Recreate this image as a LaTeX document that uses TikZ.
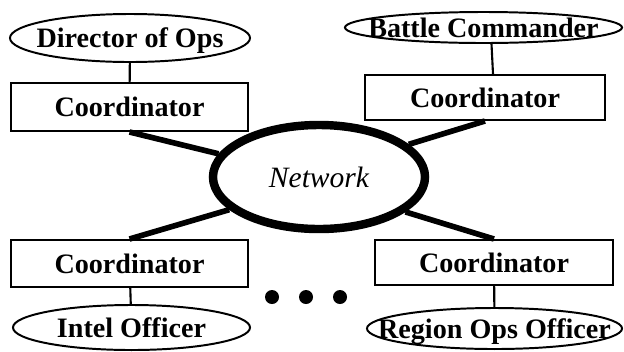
\documentclass[tikz,border=0pt]{standalone}
\usepackage{fontspec}
\setmainfont{Liberation Serif}
\usetikzlibrary{shapes.geometric}

\begin{document}
\begin{tikzpicture}[x=0.025cm,y=-0.025cm,
  font=\fontsize{20}{24}\selectfont\bfseries,
  every label/.style={text depth=0pt,inner sep=0pt},
  coord/.style={draw,line width=1.4pt,inner sep=0pt},
  person/.style={draw,ellipse,line width=1.4pt,inner sep=0pt},
  link/.style={line width=4pt},
  tie/.style={line width=1.5pt}]
\useasboundingbox (0,0) rectangle (624,351);
\node[person,minimum width=6cm,minimum height=1.2cm,label=center:Director of Ops] (dirops) at (130,38) {};
\node[person,minimum width=6.925cm,minimum height=0.775cm,label=center:Battle Commander] (battle) at (483.5,27.5) {};
\node[person,minimum width=5.925cm,minimum height=1.125cm,label=center:Intel Officer] (intel) at (131.5,327.5) {};
\node[person,minimum width=6.375cm,minimum height=1.025cm,label=center:Region Ops Officer] (region) at (494.5,328.5) {};
\node[coord,minimum width=5.925cm,minimum height=1.2cm] (c1) at (129.5,107) {Coordinator};
\node[coord,minimum width=6cm,minimum height=1.125cm] (c2) at (485,97.5) {Coordinator};
\node[coord,minimum width=5.925cm,minimum height=1.175cm] (c3) at (129.5,263.5) {Coordinator};
\node[coord,minimum width=5.95cm,minimum height=1.125cm] (c4) at (494,262.5) {Coordinator};
\node[draw,ellipse,line width=6pt,minimum width=5.3cm,minimum height=2.6cm,
  font=\fontsize{21}{25}\selectfont\itshape] (net) at (319,177) {Network};
\draw[tie] (dirops) -- (c1);
\draw[tie] ([xshift=0.2cm]battle.south) -- ([xshift=0.2cm]c2.north);
\draw[tie] (c3) -- (intel);
\draw[tie] (c4) -- (region);
\draw[link] (c1.south) -- (net.167);
\draw[link] (c2.south) -- (net.20);
\draw[link] (c3.north) -- (net.200);
\draw[link] (c4.north) -- (net.338);
\foreach \x in {272,306,340}
  \fill (\x,297) circle[radius=0.175cm];
\end{tikzpicture}
\end{document}
